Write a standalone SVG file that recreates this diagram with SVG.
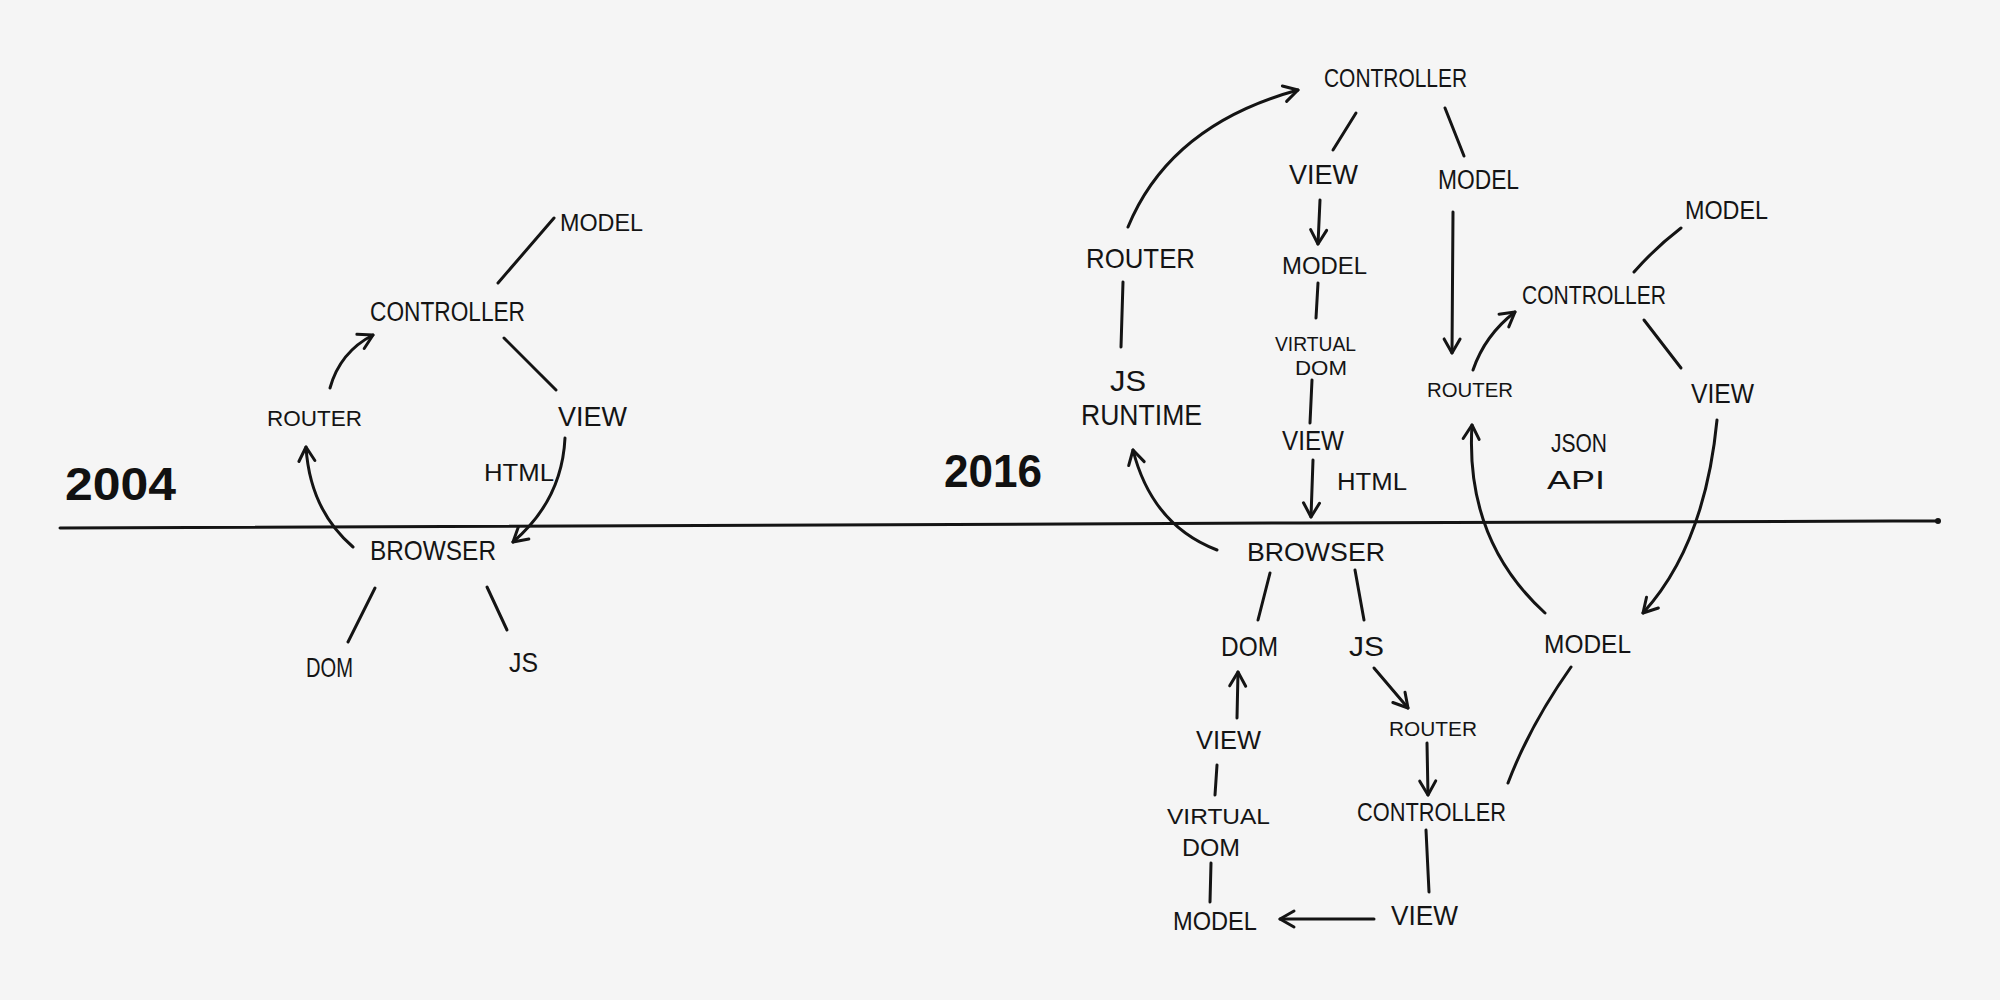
<svg xmlns="http://www.w3.org/2000/svg" width="2000" height="1000" viewBox="0 0 2000 1000">
<style>
.t{font-family:"Liberation Sans",Arial,sans-serif;fill:#141414;}
.yr{font-family:"Liberation Sans",Arial,sans-serif;font-weight:bold;fill:#111;}
.c{fill:none;stroke:#141414;stroke-width:3;stroke-linecap:round;stroke-linejoin:round;}
.a{marker-end:url(#ah);}
</style>
<defs>
<marker id="ah" markerUnits="userSpaceOnUse" markerWidth="24" markerHeight="24" viewBox="0 0 24 24" refX="20" refY="12" orient="auto">
<path d="M6,4 L20,12 L6,20" fill="none" stroke="#141414" stroke-width="3" stroke-linecap="round" stroke-linejoin="round"/>
</marker>
</defs>
<rect width="2000" height="1000" fill="#f5f5f5"/>

<g id="timeline">
<path class="c" d="M60,528 C500,528 900,525 1300,523 S1800,521 1938,521"/>
<circle cx="1938" cy="521" r="3" fill="#141414"/>
<text class="yr" x="65" y="500" font-size="46" textLength="111" lengthAdjust="spacingAndGlyphs">2004</text>
<text class="yr" x="944" y="487" font-size="46" textLength="98" lengthAdjust="spacingAndGlyphs">2016</text>
</g>

<g id="connectors">
<!-- 2004 -->
<line class="c" x1="554" y1="218" x2="498" y2="283"/>
<path class="c a" d="M330,388 Q340,352 373,335"/>
<line class="c" x1="504" y1="338" x2="556" y2="390"/>
<path class="c a" d="M565,438 Q562,500 513,542"/>
<path class="c a" d="M353,547 Q310,510 306,447"/>
<line class="c" x1="375" y1="588" x2="348" y2="642"/>
<line class="c" x1="487" y1="587" x2="507" y2="630"/>
<!-- 2016 -->
<path class="c a" d="M1128,227 Q1170,125 1298,90"/>
<line class="c" x1="1356" y1="113" x2="1333" y2="150"/>
<line class="c" x1="1445" y1="108" x2="1464" y2="156"/>
<line class="c a" x1="1320" y1="200" x2="1318" y2="244"/>
<line class="c" x1="1318" y1="283" x2="1316" y2="318"/>
<line class="c" x1="1312" y1="380" x2="1310" y2="423"/>
<line class="c a" x1="1313" y1="460" x2="1311" y2="517"/>
<line class="c" x1="1123" y1="282" x2="1121" y2="347"/>
<path class="c a" d="M1217,550 Q1152,525 1133,450"/>
<line class="c" x1="1270" y1="573" x2="1258" y2="620"/>
<line class="c" x1="1355" y1="570" x2="1364" y2="620"/>
<line class="c a" x1="1374" y1="668" x2="1408" y2="708"/>
<line class="c a" x1="1427" y1="743" x2="1428" y2="795"/>
<line class="c" x1="1426" y1="830" x2="1429" y2="892"/>
<line class="c a" x1="1374" y1="919" x2="1280" y2="919"/>
<line class="c" x1="1211" y1="863" x2="1210" y2="902"/>
<line class="c" x1="1217" y1="765" x2="1215" y2="795"/>
<line class="c a" x1="1237" y1="718" x2="1238" y2="672"/>
<line class="c a" x1="1453" y1="212" x2="1452" y2="353"/>
<path class="c a" d="M1473,370 Q1485,335 1515,312"/>
<path class="c" d="M1681,228 Q1655,248 1634,272"/>
<line class="c" x1="1644" y1="320" x2="1681" y2="368"/>
<path class="c a" d="M1717,420 Q1705,545 1643,613"/>
<path class="c a" d="M1545,613 Q1465,540 1472,425"/>
<path class="c" d="M1571,667 Q1530,725 1508,783"/>
</g>

<g id="n2004-model"><text class="t" x="560" y="231" font-size="24" textLength="83" lengthAdjust="spacingAndGlyphs">MODEL</text></g>
<g id="n2004-controller"><text class="t" x="370" y="321" font-size="27" textLength="155" lengthAdjust="spacingAndGlyphs">CONTROLLER</text></g>
<g id="n2004-router"><text class="t" x="267" y="426" font-size="22" textLength="95" lengthAdjust="spacingAndGlyphs">ROUTER</text></g>
<g id="n2004-view"><text class="t" x="558" y="426" font-size="28" textLength="69" lengthAdjust="spacingAndGlyphs">VIEW</text></g>
<g id="n2004-html"><text class="t" x="484" y="481" font-size="24" textLength="70" lengthAdjust="spacingAndGlyphs">HTML</text></g>
<g id="n2004-browser"><text class="t" x="370" y="560" font-size="28" textLength="126" lengthAdjust="spacingAndGlyphs">BROWSER</text></g>
<g id="n2004-dom"><text class="t" x="306" y="677" font-size="28" textLength="47" lengthAdjust="spacingAndGlyphs">DOM</text></g>
<g id="n2004-js"><text class="t" x="509" y="672" font-size="28" textLength="29" lengthAdjust="spacingAndGlyphs">JS</text></g>

<g id="n2016-controller-top"><text class="t" x="1324" y="87" font-size="26" textLength="143" lengthAdjust="spacingAndGlyphs">CONTROLLER</text></g>
<g id="n2016-view-a"><text class="t" x="1289" y="184" font-size="27" textLength="69" lengthAdjust="spacingAndGlyphs">VIEW</text></g>
<g id="n2016-model-a"><text class="t" x="1438" y="189" font-size="27" textLength="81" lengthAdjust="spacingAndGlyphs">MODEL</text></g>
<g id="n2016-model-b"><text class="t" x="1282" y="274" font-size="23" textLength="85" lengthAdjust="spacingAndGlyphs">MODEL</text></g>
<g id="n2016-vdom-a"><text class="t" x="1275" y="351" font-size="21" textLength="81" lengthAdjust="spacingAndGlyphs">VIRTUAL</text><text class="t" x="1295" y="375" font-size="21" textLength="52" lengthAdjust="spacingAndGlyphs">DOM</text></g>
<g id="n2016-view-b"><text class="t" x="1282" y="450" font-size="28" textLength="62" lengthAdjust="spacingAndGlyphs">VIEW</text></g>
<g id="n2016-html"><text class="t" x="1337" y="490" font-size="23" textLength="70" lengthAdjust="spacingAndGlyphs">HTML</text></g>
<g id="n2016-router-a"><text class="t" x="1086" y="268" font-size="28" textLength="109" lengthAdjust="spacingAndGlyphs">ROUTER</text></g>
<g id="n2016-jsruntime"><text class="t" x="1110" y="391" font-size="30" textLength="36" lengthAdjust="spacingAndGlyphs">JS</text><text class="t" x="1081" y="425" font-size="30" textLength="121" lengthAdjust="spacingAndGlyphs">RUNTIME</text></g>
<g id="n2016-browser"><text class="t" x="1247" y="561" font-size="25" textLength="138" lengthAdjust="spacingAndGlyphs">BROWSER</text></g>
<g id="n2016-dom"><text class="t" x="1221" y="656" font-size="28" textLength="57" lengthAdjust="spacingAndGlyphs">DOM</text></g>
<g id="n2016-js"><text class="t" x="1349" y="656" font-size="28" textLength="35" lengthAdjust="spacingAndGlyphs">JS</text></g>
<g id="n2016-router-b"><text class="t" x="1389" y="736" font-size="21" textLength="88" lengthAdjust="spacingAndGlyphs">ROUTER</text></g>
<g id="n2016-controller-b"><text class="t" x="1357" y="821" font-size="26" textLength="149" lengthAdjust="spacingAndGlyphs">CONTROLLER</text></g>
<g id="n2016-view-c"><text class="t" x="1391" y="925" font-size="28" textLength="67" lengthAdjust="spacingAndGlyphs">VIEW</text></g>
<g id="n2016-model-c"><text class="t" x="1173" y="930" font-size="26" textLength="84" lengthAdjust="spacingAndGlyphs">MODEL</text></g>
<g id="n2016-vdom-b"><text class="t" x="1167" y="824" font-size="22" textLength="103" lengthAdjust="spacingAndGlyphs">VIRTUAL</text><text class="t" x="1182" y="856" font-size="24" textLength="58" lengthAdjust="spacingAndGlyphs">DOM</text></g>
<g id="n2016-view-d"><text class="t" x="1196" y="749" font-size="25" textLength="65" lengthAdjust="spacingAndGlyphs">VIEW</text></g>
<g id="n2016-model-d"><text class="t" x="1544" y="653" font-size="26" textLength="87" lengthAdjust="spacingAndGlyphs">MODEL</text></g>
<g id="n2016-router-c"><text class="t" x="1427" y="397" font-size="21" textLength="86" lengthAdjust="spacingAndGlyphs">ROUTER</text></g>
<g id="n2016-controller-c"><text class="t" x="1522" y="304" font-size="25" textLength="144" lengthAdjust="spacingAndGlyphs">CONTROLLER</text></g>
<g id="n2016-model-e"><text class="t" x="1685" y="219" font-size="25" textLength="83" lengthAdjust="spacingAndGlyphs">MODEL</text></g>
<g id="n2016-view-e"><text class="t" x="1691" y="403" font-size="27" textLength="63" lengthAdjust="spacingAndGlyphs">VIEW</text></g>
<g id="n2016-jsonapi"><text class="t" x="1551" y="452" font-size="25" textLength="56" lengthAdjust="spacingAndGlyphs">JSON</text><text class="t" x="1547" y="489" font-size="25" textLength="58" lengthAdjust="spacingAndGlyphs">API</text></g>
</svg>
